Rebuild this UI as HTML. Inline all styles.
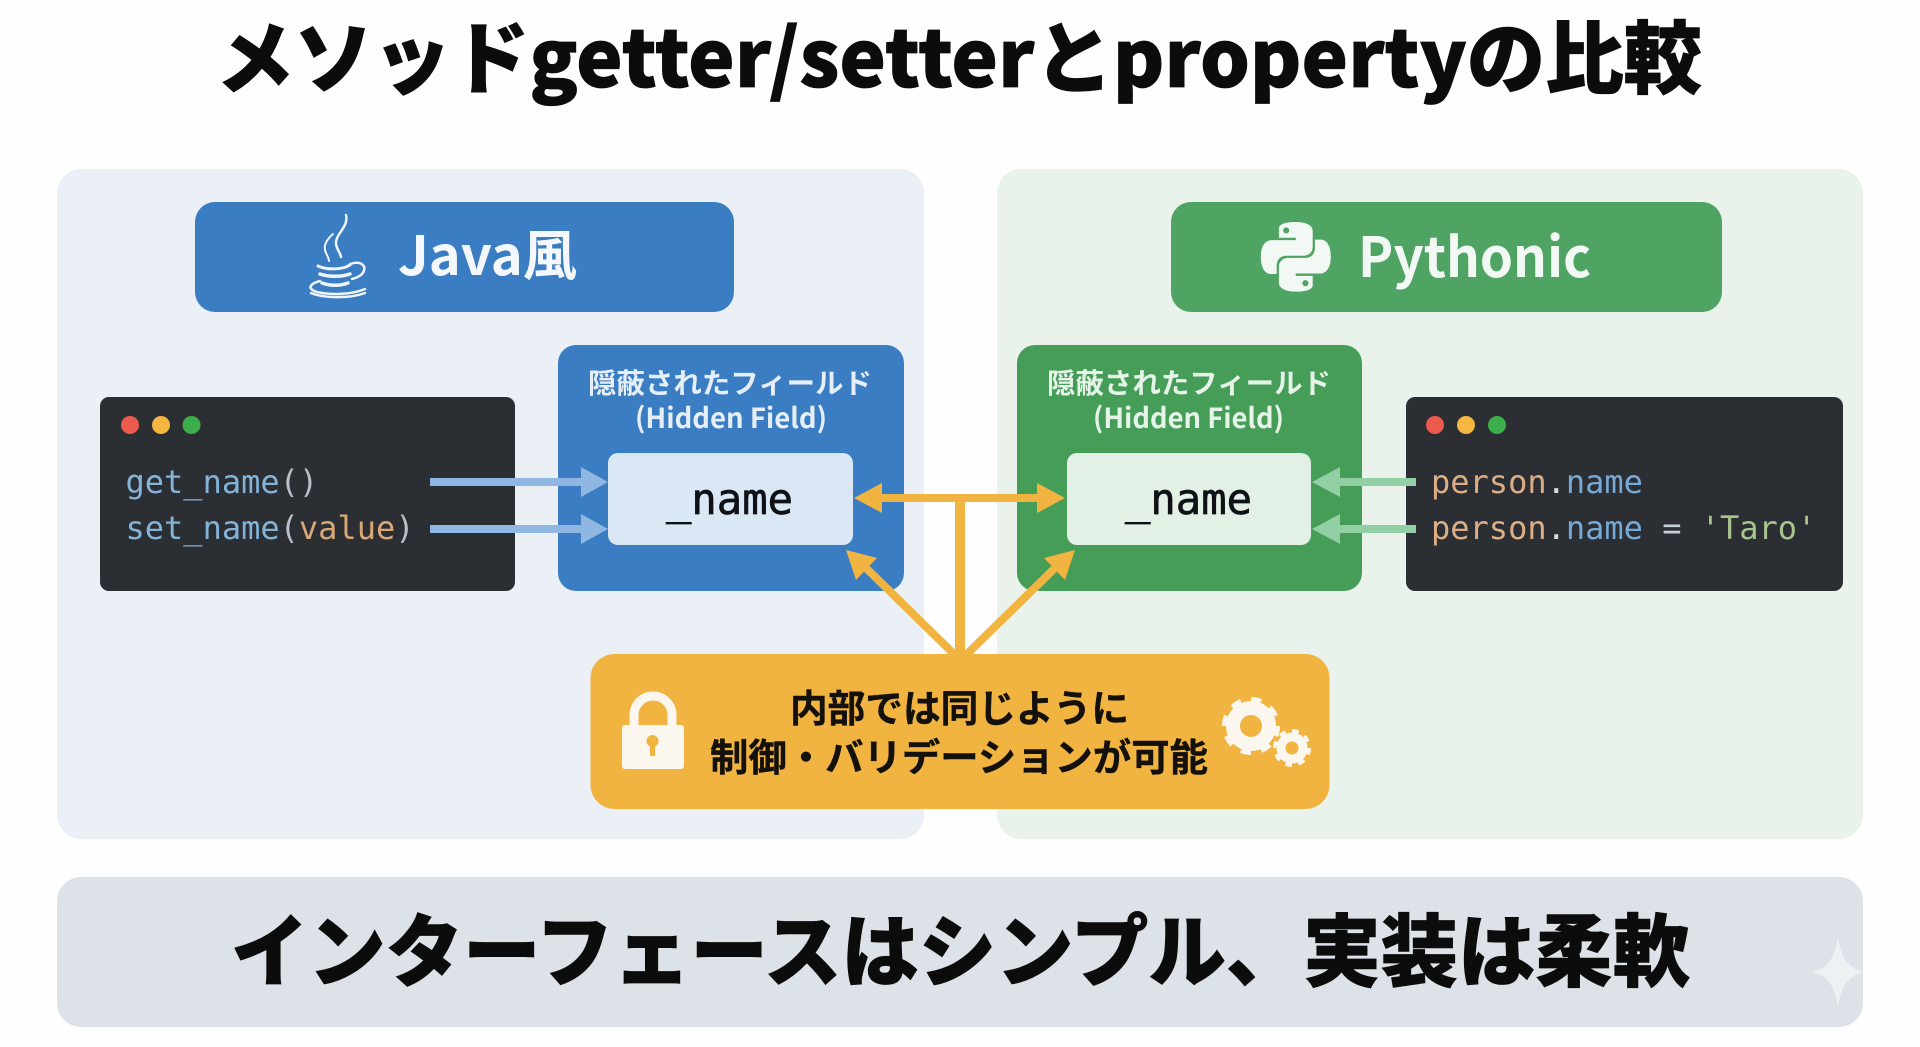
<!DOCTYPE html>
<html lang="ja"><head><meta charset="utf-8"><title>メソッドgetter/setterとpropertyの比較</title>
<style>
html,body{margin:0;padding:0;background:#fdfefd;width:1920px;height:1047px;overflow:hidden}
svg{display:block}
.n{font-family:"Noto Sans CJK JP",sans-serif;font-weight:700}
.h{font-family:"Noto Sans CJK JP",sans-serif;font-weight:900;stroke:#0c0c0c;stroke-width:.8px}
.m{font-family:"DejaVu Sans Mono","Liberation Mono",monospace;font-size:32px}
</style></head><body>
<svg width="1920" height="1047" viewBox="0 0 1920 1047" xmlns="http://www.w3.org/2000/svg">
<rect width="1920" height="1047" fill="#fdfefd"/>
<text class="h" x="216" y="87" font-size="79" textLength="1486" lengthAdjust="spacingAndGlyphs" fill="#0c0c0c">メソッドgetter/setterとpropertyの比較</text>

<rect x="57" y="169" width="867" height="670" rx="24" fill="#ebf0f7"/>
<rect x="997" y="169" width="866" height="670" rx="24" fill="#e9f3ec"/>

<rect x="195" y="202" width="539" height="110" rx="20" fill="#3a7dc2"/>
<rect x="1171" y="202" width="551" height="110" rx="20" fill="#50a463"/>

<!-- Java cup -->
<g fill="none" stroke="#eef4fa" stroke-linecap="round">
<path d="M346 215c3 12-11 19-10 29 1 6 4 8 5 13" stroke-width="2.5"/>
<path d="M333 234c-8 7-10 13-7 19 2 4 3 6 3 8" stroke-width="2"/>
<path d="M318 266c8 4 24 4 32-1" stroke-width="3"/>
<path d="M350 264c12-4 18 3 12 10-3 3-6 4-10 5" stroke-width="2.5"/>
<path d="M320 274c8 3 22 3 30 0M322 283c8 3 18 3 26 0" stroke-width="3.500"/>
<path d="M320 281c-11 3-13 8-3 11 13 3 34 3 48-3" stroke-width="2.500"/>
<path d="M311 293c12 5 38 6 54 0" stroke-width="2.500"/>
</g>
<text class="n" x="398" y="275" font-size="54" textLength="179" lengthAdjust="spacingAndGlyphs" fill="#f4f8fc">Java風</text>

<!-- Python logo -->
<path transform="translate(1261 222) scale(2.9)" fill="#f2f8f3" d="M14.25.18l.9.2.73.26.59.3.45.32.34.34.25.34.16.33.1.3.04.26.02.2-.01.13V8.5l-.05.63-.13.55-.21.46-.26.38-.3.31-.33.25-.35.19-.35.14-.33.1-.3.07-.26.04-.21.02H8.77l-.69.05-.59.14-.5.22-.41.27-.33.32-.27.35-.2.36-.15.37-.1.35-.07.32-.04.27-.02.21v3.06H3.17l-.21-.03-.28-.07-.32-.12-.35-.18-.36-.26-.36-.36-.35-.46-.32-.59-.28-.73-.21-.88-.14-1.05-.05-1.23.06-1.22.16-1.04.24-.87.32-.71.36-.57.4-.44.42-.33.42-.24.4-.16.36-.1.32-.05.24-.01h.16l.06.01h8.16v-.83H6.18l-.01-2.75-.02-.37.05-.34.11-.31.17-.28.25-.26.31-.23.38-.2.44-.18.51-.15.58-.12.64-.1.71-.06.77-.04.84-.02 1.27.05zm-6.3 1.98l-.23.33-.08.41.08.41.23.34.33.22.41.09.41-.09.33-.22.23-.34.08-.41-.08-.41-.23-.33-.33-.22-.41-.09-.41.09zm13.09 3.95l.28.06.32.12.35.18.36.27.36.35.35.47.32.59.28.73.21.88.14 1.04.05 1.23-.06 1.23-.16 1.04-.24.86-.32.71-.36.57-.4.45-.42.33-.42.24-.4.16-.36.09-.32.05-.24.02-.16-.01h-8.22v.82h5.84l.01 2.76.02.36-.05.34-.11.31-.17.29-.25.25-.31.24-.38.2-.44.17-.51.15-.58.13-.64.09-.71.07-.77.04-.84.01-1.27-.04-1.07-.14-.9-.2-.73-.25-.59-.3-.45-.33-.34-.34-.25-.34-.16-.33-.1-.3-.04-.25-.02-.2.01-.13v-5.34l.05-.64.13-.54.21-.46.26-.38.3-.32.33-.24.35-.2.35-.14.33-.1.3-.06.26-.04.21-.02.13-.01h5.84l.69-.05.59-.14.5-.21.41-.28.33-.32.27-.35.2-.36.15-.36.1-.35.07-.32.04-.28.02-.21V6.07h2.09l.14.01zm-6.47 14.25l-.23.33-.08.41.08.41.23.33.33.23.41.08.41-.08.33-.23.23-.33.08-.41-.08-.41-.23-.33-.33-.23-.41-.08-.41.08z"/>
<text class="n" x="1358" y="277" font-size="55" textLength="233" lengthAdjust="spacingAndGlyphs" fill="#f2f8f3">Pythonic</text>

<!-- Code boxes -->
<rect x="100" y="397" width="415" height="194" rx="9" fill="#2b2e33"/>
<rect x="1406" y="397" width="437" height="194" rx="9" fill="#2b2e33"/>
<circle cx="130" cy="425" r="9" fill="#ec5a4e"/><circle cx="161" cy="425" r="9" fill="#f5b642"/><circle cx="191.500" cy="425" r="9" fill="#3dae4c"/>
<circle cx="1435" cy="425" r="9" fill="#ec5a4e"/><circle cx="1466" cy="425" r="9" fill="#f5b642"/><circle cx="1497" cy="425" r="9" fill="#3dae4c"/>

<text class="m" x="125.500" y="493" fill="#84b3d8" xml:space="preserve">get_name<tspan fill="#b8c0c8">()</tspan></text>
<text class="m" x="125.500" y="539" fill="#84b3d8" xml:space="preserve">set_name<tspan fill="#b8c0c8">(</tspan><tspan fill="#d9a877">value</tspan><tspan fill="#b8c0c8">)</tspan></text>
<text class="m" x="1431" y="493" fill="#dcae85" xml:space="preserve">person<tspan fill="#d8dde2">.</tspan><tspan fill="#76a9d6">name</tspan></text>
<text class="m" x="1431" y="539" fill="#dcae85" xml:space="preserve">person<tspan fill="#d8dde2">.</tspan><tspan fill="#76a9d6">name</tspan><tspan fill="#c8d0d8"> = </tspan><tspan fill="#a9c58c">'Taro'</tspan></text>

<!-- Hidden field boxes -->
<rect x="558" y="345" width="346" height="246" rx="18" fill="#3a7dc2"/>
<rect x="1017" y="345" width="345" height="246" rx="18" fill="#459d58"/>
<text class="n" x="588" y="393" font-size="28" textLength="284" lengthAdjust="spacingAndGlyphs" fill="#e6eff8">隠蔽されたフィールド</text>
<text class="n" x="635" y="428" font-size="28" textLength="192" lengthAdjust="spacingAndGlyphs" fill="#e6eff8">(Hidden Field)</text>
<text class="n" x="1047" y="393" font-size="28" textLength="284" lengthAdjust="spacingAndGlyphs" fill="#e6f3e9">隠蔽されたフィールド</text>
<text class="n" x="1093" y="428" font-size="28" textLength="191" lengthAdjust="spacingAndGlyphs" fill="#e6f3e9">(Hidden Field)</text>
<rect x="608" y="453" width="245" height="92" rx="10" fill="#d9e8f4"/>
<rect x="1067" y="453" width="244" height="92" rx="10" fill="#e3f0e6"/>
<text x="666" y="514" font-family="'DejaVu Sans Mono',monospace" font-size="43" textLength="127" lengthAdjust="spacingAndGlyphs" stroke="#0e1216" stroke-width=".7" fill="#0e1216">_name</text>
<text x="1125" y="514" font-family="'DejaVu Sans Mono',monospace" font-size="43" textLength="127" lengthAdjust="spacingAndGlyphs" stroke="#0e1216" stroke-width=".7" fill="#0e1216">_name</text>

<!-- Blue / green arrows -->
<g fill="#8fb7e2">
<polygon points="430,478 581,478 581,467 608,482 581,497 581,486 430,486"/>
<polygon points="430,525 581,525 581,514 608,529 581,544 581,533 430,533"/>
</g>
<g fill="#93cfa5">
<polygon points="1416,478 1340,478 1340,467 1312,482 1340,497 1340,486 1416,486"/>
<polygon points="1416,525 1340,525 1340,514 1312,529 1340,544 1340,533 1416,533"/>
</g>

<!-- Orange arrows -->
<g fill="#f2b441">
<polygon points="882,494 1037,494 1037,483 1065,498 1037,513 1037,502 882,502 882,513 854,498 882,483"/>
<rect x="955" y="498" width="10" height="157"/>
<line x1="866" y1="568" x2="956" y2="656" stroke="#f2b441" stroke-width="8"/>
<polygon points="846,550 877,558 856,580"/>
<line x1="1055" y1="568" x2="965" y2="656" stroke="#f2b441" stroke-width="8"/>
<polygon points="1075,550 1044,558 1065,580"/>
<rect x="590.500" y="654" width="739" height="155" rx="24"/>
</g>

<!-- Lock -->
<path d="M634 727v-12a19 19 0 0 1 38 0v12" fill="none" stroke="#fbf7ee" stroke-width="9"/>
<rect x="622" y="725" width="62" height="44" rx="3" fill="#fbf7ee"/>
<circle cx="652.500" cy="741" r="6" fill="#f2b441"/>
<rect x="650" y="742" width="5" height="14" fill="#f2b441"/>

<!-- Gears -->
<g fill="none" stroke="#fbf7ee">
<circle cx="1251" cy="726" r="18" stroke-width="14"/>
<circle cx="1251" cy="726" r="26" stroke-width="6" stroke-dasharray="10.2 10.2"/>
<circle cx="1292" cy="748" r="11" stroke-width="9"/>
<circle cx="1292" cy="748" r="16.500" stroke-width="5" stroke-dasharray="6.500 6.460"/>
</g>

<text class="n" x="790" y="722" font-size="38" textLength="339" lengthAdjust="spacingAndGlyphs" fill="#14110c" stroke="#14110c" stroke-width=".4">内部では同じように</text>
<text class="n" x="710" y="771" font-size="38" textLength="498" lengthAdjust="spacingAndGlyphs" fill="#14110c" stroke="#14110c" stroke-width=".4">制御・バリデーションが可能</text>

<!-- Bottom bar -->
<rect x="57" y="877" width="1806" height="150" rx="24" fill="#dde2e8"/>
<text class="h" x="231" y="980" font-size="79" textLength="1459" lengthAdjust="spacingAndGlyphs" fill="#0c0c0c">インターフェースはシンプル、実装は柔軟</text>
<path d="M1838 938C1842 960 1848 967 1863 972 1848 977 1842 984 1838 1006 1834 984 1828 977 1812 972 1828 967 1834 960 1838 938Z" fill="#eef1f4"/>
</svg>
</body></html>
